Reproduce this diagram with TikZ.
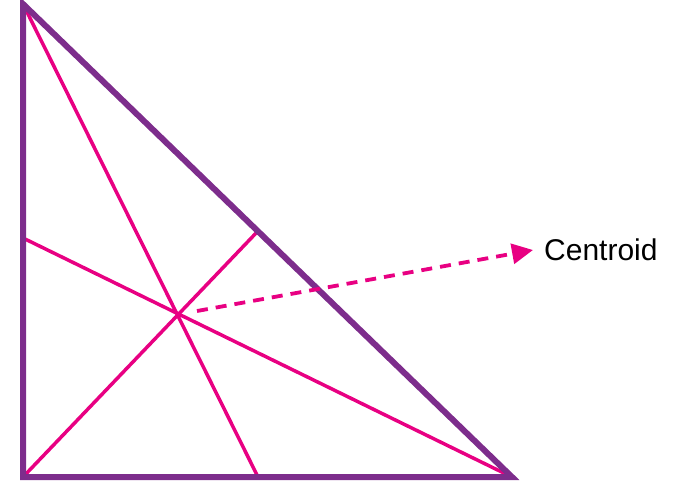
\documentclass[tikz,border=0pt]{standalone}
\usepackage{fontspec}
\setmainfont{Liberation Sans}
\usetikzlibrary{arrows.meta}
\definecolor{sidepurple}{RGB}{125,45,140}
\definecolor{medpink}{RGB}{232,0,130}
\begin{document}
\begin{tikzpicture}[x=1pt, y=-1pt]
    % styles
    \tikzstyle{side}=[line width=6pt, sidepurple]
    \tikzstyle{median}=[line width=3.5pt, medpink]
    \tikzstyle{pointer}=[line width=3.8pt, medpink, dash pattern=on 11pt off 8pt, -{Triangle[length=21pt, width=20pt]}]

    \useasboundingbox (0,0) rectangle (675,483);

    % vertices
    \coordinate (A) at (23,4);
    \coordinate (B) at (23,477);
    \coordinate (C) at (512,477);

    % midpoints of the sides
    \coordinate (mAB) at (23,238);
    \coordinate (mAC) at (258,231);
    \coordinate (mBC) at (258,477);

    % centroid
    \coordinate (G) at (179,314);
    \coordinate (Gs) at (197,311);

    % medians
    \draw[median] (A) -- (mBC);
    \draw[median] (B) -- (mAC);
    \draw[median] (C) -- (mAB);

    % triangle
    \draw[side] (A) -- (B) -- (C) -- cycle;

    % label with dashed arrow
    \node[anchor=west, inner sep=0pt, font=\fontsize{30}{36}\selectfont] (lbl) at (544,250) {Centroid};
    \draw[pointer] (Gs) -- ([xshift=-11pt]lbl.west);
\end{tikzpicture}
\end{document}
